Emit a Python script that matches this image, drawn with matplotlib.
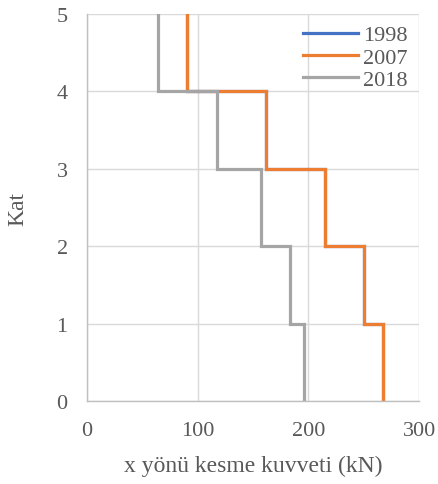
import matplotlib
matplotlib.use("Agg")
import matplotlib.pyplot as plt
import numpy as np

plt.rcParams['font.family'] = ['Liberation Serif', 'DejaVu Serif']

stories = [5, 4, 3, 2, 1, 0]
shear_1998 = [90, 162, 215, 250, 267]
shear_2007 = [90, 162, 215, 250, 267]
shear_2018 = [64, 117, 157, 183, 196]
series = ["1998", "2007", "2018"]
colors = ["#4472c4", "#ed7d31", "#a5a5a5"]

def step_xy(vals):
    xs, ys = [], []
    for i, v in enumerate(vals):
        xs += [v, v]
        ys += [stories[i], stories[i + 1]]
    return xs, ys

fig = plt.figure(figsize=(4.38, 4.85), dpi=100)
ax = fig.add_axes([0.199, 0.171, 0.758, 0.798])

for name, vals, c in zip(series, [shear_1998, shear_2007, shear_2018], colors):
    xs, ys = step_xy(vals)
    ax.plot(xs, ys, color=c, lw=2.3, label=name, solid_joinstyle='miter')

ax.set_xlim(0, 300)
ax.set_ylim(0, 5)
ax.set_xticks([0, 100, 200, 300])
ax.set_yticks([0, 1, 2, 3, 4, 5])
ax.grid(True, color="#d9d9d9", lw=1.0)
ax.set_axisbelow(True)
for s in ["top", "right"]:
    ax.spines[s].set_visible(False)
for s in ["left", "bottom"]:
    ax.spines[s].set_color("#bfbfbf")
    ax.spines[s].set_linewidth(1.0)
ax.tick_params(axis="x", length=0, labelsize=16, colors="#595959", pad=14)
ax.tick_params(axis="y", length=0, labelsize=16, colors="#595959", pad=14)
ax.set_xlabel("x yönü kesme kuvveti (kN)", fontsize=17, color="#595959", labelpad=11)
ax.set_ylabel("Kat", fontsize=17, color="#595959", labelpad=20)
leg = ax.legend(loc="upper right", frameon=False, fontsize=16, handlelength=2.45,
                handletextpad=0.22, labelspacing=0.07, borderaxespad=0.0, borderpad=0.0,
                bbox_to_anchor=(0.964, 0.972))
for t in leg.get_texts():
    t.set_color("#595959")

fig.savefig("out.png", dpi=100)
